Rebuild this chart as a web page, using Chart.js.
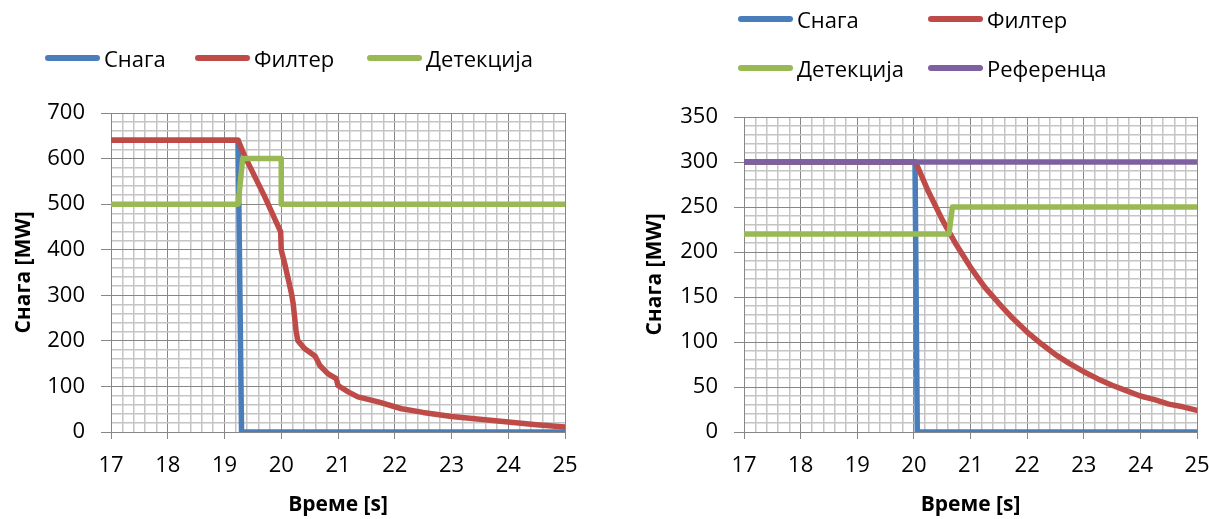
<!DOCTYPE html>
<html>
<head>
<meta charset="utf-8">
<title>Снага и филтер</title>
<script src="https://cdn.jsdelivr.net/npm/chart.js@4.4.1/dist/chart.umd.min.js"></script>
<style>
  html, body { margin: 0; padding: 0; background: #fff; overflow: hidden; width: 1209px; height: 519px; }
  canvas { position: absolute; top: 0; }
  #left { left: 0; }
  #right { left: 620px; }
  .legend-item { position: absolute; display: flex; align-items: center; height: 30px; margin-top: -15px;
    font: 22px "Open Sans", sans-serif; color: #000; white-space: nowrap; }
  .legend-line { width: 55px; height: 6px; border-radius: 3px; margin-right: 4px; }
</style>
</head>
<body>
<canvas id="left" width="600" height="519"></canvas>
<canvas id="right" width="620" height="519"></canvas>
<div id="legend"></div>
<script>
// tick labels
const timeTicks = [17, 18, 19, 20, 21, 22, 23, 24, 25];
const leftPowerTicks = [0, 100, 200, 300, 400, 500, 600, 700];
const rightPowerTicks = [0, 50, 100, 150, 200, 250, 300, 350];

const seriesNames = ["Снага", "Филтер", "Детекција", "Референца"];

// left chart
const leftSnagaTime = [17, 19.24, 19.3, 25];
const leftSnagaValue = [640, 640, 0, 0];
const leftFilterTime = [17, 19.24, 19.35, 19.71, 19.99, 20.0, 20.06, 20.18, 20.21, 20.26, 20.29,
  20.41, 20.6, 20.68, 20.82, 20.97, 21.0, 21.18, 21.35, 21.71, 22.12, 22.5, 23, 23.5, 24, 24.5, 25];
const leftFilterValue = [640, 640, 607, 516, 439, 399, 370, 304, 282, 223, 201,
  183, 166, 146, 128, 117, 102, 88, 77, 66, 51, 43, 34, 28, 22, 16, 11];
const leftDetTime = [17, 19.24, 19.32, 20.0, 20.0, 25];
const leftDetValue = [500, 500, 600, 600, 500, 500];

// right chart
const rightSnagaTime = [17, 20.02, 20.06, 25];
const rightSnagaValue = [300, 300, 0, 0];
const rightFilterTime = [17, 20.03, 20.25, 20.5, 20.75, 21, 21.25, 21.5, 21.75, 22, 22.25, 22.5,
  22.75, 23, 23.25, 23.5, 23.75, 24, 24.25, 24.5, 24.75, 25];
const rightFilterValue = [300, 300, 268, 236, 208, 183, 161, 143, 126, 111, 98, 86,
  76, 67, 59, 52, 46, 40, 36, 31, 28, 24];
const rightDetTime = [17, 20.62, 20.68, 25];
const rightDetValue = [220, 220, 250, 250];
const rightRefTime = [17, 25];
const rightRefValue = [300, 300];

const colors = ["#4a7ebb", "#be4b48", "#98b954", "#7d60a0"];
const majorGrid = "#878787";
const minorGrid = "#c4c4c4";

Chart.defaults.font.family = "'Open Sans', sans-serif";
Chart.defaults.color = "#000";

function points(times, values) {
  return times.map(function (t, i) {
    return { x: t, y: values[i] };
  });
}

function isIn(list, v) {
  return list.some(function (e) {
    return Math.abs(e - v) < 1e-6;
  });
}

function makeDataset(i, times, values, count) {
  return {
    label: seriesNames[i],
    data: points(times, values),
    borderColor: colors[i],
    backgroundColor: colors[i],
    borderWidth: 5.5,
    pointRadius: 0,
    tension: 0,
    borderCapStyle: "round",
    borderJoinStyle: "round",
    order: count - i,
  };
}

function makeChart(canvas, datasets, yTicks, yStep, layout) {
  const config = {
    type: "line",
    data: { datasets: datasets },
    options: {
      responsive: false,
      animation: false,
      layout: { padding: layout.padding },
      plugins: { legend: { display: false }, tooltip: { enabled: false } },
      scales: {
        x: {
          type: "linear",
          min: timeTicks[0],
          max: timeTicks[timeTicks.length - 1],
          afterFit: function (scale) {
            scale.height = layout.xHeight;
            scale.paddingLeft = 0;
            scale.paddingRight = 0;
          },
          ticks: {
            stepSize: 0.2,
            autoSkip: false,
            maxRotation: 0,
            padding: 14,
            font: { size: 22 },
            callback: function (v) {
              return isIn(timeTicks, v) ? String(Math.round(v)) : "";
            },
          },
          grid: {
            tickLength: 7,
            lineWidth: function (ctx) {
              return ctx.tick && isIn(timeTicks, ctx.tick.value) ? 1 : 1.5;
            },
            color: function (ctx) {
              return ctx.tick && isIn(timeTicks, ctx.tick.value) ? majorGrid : minorGrid;
            },
            tickColor: function (ctx) {
              return ctx.tick && isIn(timeTicks, ctx.tick.value) ? majorGrid : "rgba(0,0,0,0)";
            },
          },
          border: { color: majorGrid },
          title: {
            display: true,
            text: "Време [s]",
            font: { size: 21, weight: "bold" },
            padding: { top: 0, bottom: 1 },
          },
        },
        y: {
          min: yTicks[0],
          max: yTicks[yTicks.length - 1],
          afterFit: function (scale) {
            scale.width = layout.yWidth;
            scale.paddingTop = 0;
            scale.paddingBottom = 0;
          },
          ticks: {
            stepSize: yStep,
            autoSkip: false,
            padding: 16,
            font: { size: 22 },
            callback: function (v) {
              return isIn(yTicks, v) ? String(v) : "";
            },
          },
          grid: {
            tickLength: 10,
            lineWidth: function (ctx) {
              return ctx.tick && isIn(yTicks, ctx.tick.value) ? 1 : 1.5;
            },
            color: function (ctx) {
              return ctx.tick && isIn(yTicks, ctx.tick.value) ? majorGrid : minorGrid;
            },
            tickColor: function (ctx) {
              return ctx.tick && isIn(yTicks, ctx.tick.value) ? majorGrid : "rgba(0,0,0,0)";
            },
          },
          border: { color: majorGrid },
          title: {
            display: true,
            text: "Снага [MW]",
            font: { size: 21, weight: "bold" },
            padding: { top: layout.titlePad, bottom: 0 },
          },
        },
      },
    },
  };
  return new Chart(canvas, config);
}

function legend(chart, spots) {
  const box = document.getElementById("legend");
  chart.data.datasets.forEach(function (ds, i) {
    const item = document.createElement("div");
    item.className = "legend-item";
    item.style.left = spots[i][0] + "px";
    item.style.top = spots[i][1] + "px";
    const line = document.createElement("span");
    line.className = "legend-line";
    line.style.background = ds.borderColor;
    const text = document.createElement("span");
    text.textContent = ds.label;
    item.appendChild(line);
    item.appendChild(text);
    box.appendChild(item);
  });
}

const leftChart = makeChart(
  document.getElementById("left"),
  [
    makeDataset(0, leftSnagaTime, leftSnagaValue, 3),
    makeDataset(1, leftFilterTime, leftFilterValue, 3),
    makeDataset(2, leftDetTime, leftDetValue, 3),
  ],
  leftPowerTicks,
  20,
  { padding: { left: 0, top: 113, right: 35, bottom: 0 }, xHeight: 87, yWidth: 111, titlePad: 11 }
);
legend(leftChart, [[45, 58], [195, 58], [367, 58]]);

const rightChart = makeChart(
  document.getElementById("right"),
  [
    makeDataset(0, rightSnagaTime, rightSnagaValue, 4),
    makeDataset(1, rightFilterTime, rightFilterValue, 4),
    makeDataset(2, rightDetTime, rightDetValue, 4),
    makeDataset(3, rightRefTime, rightRefValue, 4),
  ],
  rightPowerTicks,
  10,
  { padding: { left: 0, top: 117, right: 43, bottom: 0 }, xHeight: 87, yWidth: 124, titlePad: 22 }
);
legend(rightChart, [[738, 19], [928, 19], [738, 68], [928, 68]]);
</script>
</body>
</html>
